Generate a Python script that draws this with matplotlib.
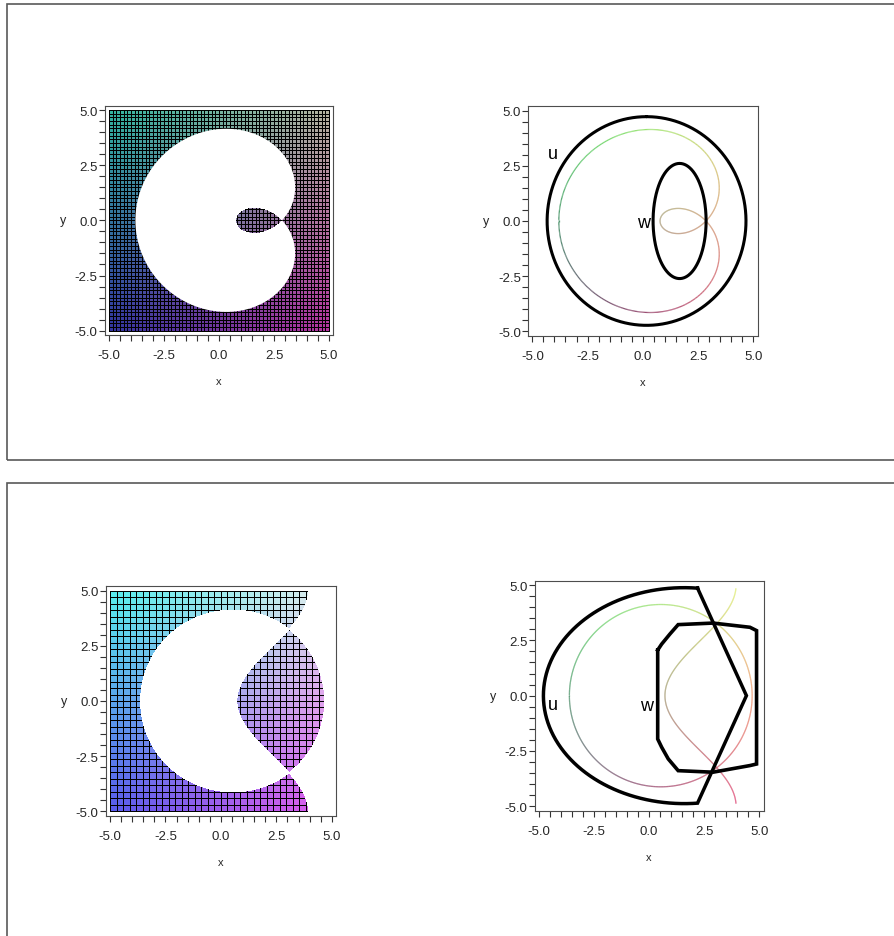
import numpy as np
import matplotlib
matplotlib.use('Agg')
import matplotlib.pyplot as plt
from matplotlib import patches
from matplotlib.collections import LineCollection
from matplotlib.ticker import MultipleLocator

plt.rcParams['font.family'] = ['Liberation Sans', 'DejaVu Sans']

# ---- curve parameters ----
# top row: looped curve  x = c0 + c1*cos t + c2*cos 2t,  y = s1*sin t + s2*sin 2t
loop_x = [0.835, 2.29, -2.345]
loop_y = [2.593, -2.155]
u_top = [0.17, 0.0, 4.5, 4.73]      # ellipse: cx, cy, a, b
w_top = [1.665, 0.0, 1.2, 2.61]

# bottom row: circle and a cosine shaped branch x = k0 - k1*cos(k2*y)
circ_bot = [0.53, 0.0, 4.15, 4.12]
branch_bot = [2.335, 1.615, 0.628]
branch_y = [-4.88, 4.85]
u_arc = [1.6, 0.0, 6.4, 4.88]       # left arc of u: cx, cy, a, b
u_arc_end_x = 2.2
u_tip = [4.42, 0.0]
w_bot_x = [0.39, 0.57, 0.95, 1.32, 2.90, 4.58, 4.88, 4.88, 4.58, 2.90, 1.32, 0.87, 0.57, 0.39]
w_bot_y = [2.06, 2.33, 2.79, 3.21, 3.28, 3.09, 2.94, -3.09, -3.16, -3.46, -3.39, -2.86, -2.33, -1.96]

# label positions
u_lbl_top = (-4.06, 3.04)
w_lbl_top = (0.02, -0.06)
u_lbl_bot = (-4.35, -0.38)
w_lbl_bot = (-0.11, -0.45)

ticks = [-5.0, -2.5, 0.0, 2.5, 5.0]
tick_labels = ['-5.0', '-2.5', '0.0', '2.5', '5.0']
n_cells_top = 60
n_cells_bot = 34

# cell colour ramps: (r0, r_slope, g0, g_slope, b)
shade_top = (0.45, 0.052, 0.45, 0.05, 0.62)
shade_bot = (0.62, 0.056, 0.64, 0.058, 0.93)

W, H = 894, 937
fig = plt.figure(figsize=(W / 100, H / 100), dpi=100)


def px_axes(l, t, w, h):
    return fig.add_axes([l / W, 1 - (t + h) / H, w / W, h / H])


def style_axes(ax):
    ax.set_xlim(-5.2, 5.2)
    ax.set_ylim(-5.2, 5.2)
    ax.set_xticks(ticks)
    ax.set_xticklabels(tick_labels)
    ax.set_yticks(ticks)
    ax.set_yticklabels(tick_labels)
    ax.xaxis.set_minor_locator(MultipleLocator(0.5))
    ax.yaxis.set_minor_locator(MultipleLocator(0.5))
    ax.tick_params(which='both', direction='out', length=4, width=0.8,
                   color='0.2', labelcolor='0.15', labelsize=9.5)
    ax.tick_params(axis='x', which='major', pad=6)
    ax.tick_params(axis='y', which='major', pad=1)
    for s in ax.spines.values():
        s.set_color('0.3')
        s.set_linewidth(0.8)
    ax.text(0.5, -0.2, 'x', transform=ax.transAxes, ha='center', va='center', fontsize=8, color='0.15')
    ax.text(-0.18, 0.5, 'y', transform=ax.transAxes, ha='center', va='center', fontsize=9, color='0.15')


def cell_grid(ax, n, shade, lw, zorder=1):
    edges = np.linspace(-5, 5, n + 1)
    X, Y = np.meshgrid(edges, edges)
    cx = (edges[:-1] + edges[1:]) / 2
    CX, CY = np.meshgrid(cx, cx)
    r0, rs, g0, gs, b = shade
    rgb = np.dstack([np.clip(r0 + rs * CX, 0, 1),
                     np.clip(g0 + gs * CY, 0, 1),
                     np.full_like(CX, b)])
    return ax.pcolormesh(X, Y, rgb, edgecolors='k', linewidth=lw, zorder=zorder)


def color_line(ax, x, y, lw=0.9):
    pts = np.column_stack([x, y])
    segs = np.stack([pts[:-1], pts[1:]], axis=1)
    mx = (x[:-1] + x[1:]) / 2
    my = (y[:-1] + y[1:]) / 2
    cols = np.column_stack([np.clip(0.6 + 0.07 * mx, 0, 1),
                            np.clip(0.6 + 0.07 * my, 0, 1),
                            np.full_like(mx, 0.45)])
    ax.add_collection(LineCollection(segs, colors=cols, linewidths=lw, zorder=2,
                                     capstyle='butt'))


def ellipse_xy(p, t):
    return p[0] + p[2] * np.cos(t), p[1] + p[3] * np.sin(t)


def loop_xy(t):
    x = loop_x[0] + loop_x[1] * np.cos(t) + loop_x[2] * np.cos(2 * t)
    y = loop_y[0] * np.sin(t) + loop_y[1] * np.sin(2 * t)
    return x, y


# parameter where the looped curve crosses itself
t_node = np.arccos(-loop_y[0] / (2 * loop_y[1]))

# panel frames
fig.add_artist(patches.Rectangle((7 / W, 1 - 461 / H), 900 / W, 456 / H, transform=fig.transFigure,
                                 fill=False, edgecolor='0.35', lw=1.2))
fig.add_artist(patches.Rectangle((7 / W, 1 - 950 / H), 900 / W, 466 / H, transform=fig.transFigure,
                                 fill=False, edgecolor='0.35', lw=1.2))

# ---- top left: shaded outside the outer loop and inside the inner loop ----
ax1 = px_axes(104.6, 106.6, 228.8, 229.5)
cell_grid(ax1, n_cells_top, shade_top, 0.7)
ox, oy = loop_xy(np.linspace(t_node, 2 * np.pi - t_node, 600))
ax1.add_patch(patches.Polygon(np.column_stack([ox, oy]), closed=True,
                              facecolor='white', edgecolor='none', zorder=2))
ix, iy = loop_xy(np.linspace(-t_node, t_node, 300))
inner = patches.Polygon(np.column_stack([ix, iy]), closed=True, facecolor='none', edgecolor='none')
ax1.add_patch(inner)
inner_mesh = cell_grid(ax1, n_cells_top, shade_top, 0.7, zorder=3)
inner_mesh.set_clip_path(inner)
style_axes(ax1)

# ---- top right: curves ----
ax2 = px_axes(527.9, 107.3, 229.8, 229.4)
tt = np.linspace(0, 2 * np.pi, 800)
lx, ly = loop_xy(tt)
color_line(ax2, lx, ly)
te = np.linspace(0.5 * np.pi, 2.5 * np.pi, 800)
for p in (u_top, w_top):
    ex, ey = ellipse_xy(p, te)
    ax2.plot(ex, ey, color='k', lw=2.2, solid_capstyle='round', zorder=3)
ax2.text(*u_lbl_top, 'u', fontsize=13, ha='center', va='center', zorder=4)
ax2.text(*w_lbl_top, 'w', fontsize=13, ha='center', va='center', zorder=4)
style_axes(ax2)

# ---- bottom left: shaded where circle and branch have the same sign ----
ax3 = px_axes(105.6, 587.3, 230.6, 229.4)
cell_grid(ax3, n_cells_bot, shade_bot, 0.6)
g = np.linspace(-5.4, 5.4, 900)
GX, GY = np.meshgrid(g, g)
circ_val = ((GX - circ_bot[0]) / circ_bot[2]) ** 2 + ((GY - circ_bot[1]) / circ_bot[3]) ** 2 - 1
branch_val = branch_bot[0] - branch_bot[1] * np.cos(branch_bot[2] * GY) - GX
ax3.contourf(GX, GY, circ_val * branch_val, levels=[-1e9, 0], colors='white', zorder=2)
style_axes(ax3)

# ---- bottom right: curves ----
ax4 = px_axes(534.6, 581.6, 229, 230.1)
cx, cy = ellipse_xy(circ_bot, tt)
color_line(ax4, cx, cy)
by = np.linspace(branch_y[0], branch_y[1], 400)
bx = branch_bot[0] - branch_bot[1] * np.cos(branch_bot[2] * by)
color_line(ax4, bx, by)
th0 = np.arccos((u_arc_end_x - u_arc[0]) / u_arc[2])
ta = np.linspace(th0, 2 * np.pi - th0, 400)
arc_x, arc_y = ellipse_xy(u_arc, ta)
ux = np.concatenate([arc_x, [u_tip[0], arc_x[0]]])
uy = np.concatenate([arc_y, [u_tip[1], arc_y[0]]])
ax4.plot(ux, uy, color='k', lw=2.5, solid_joinstyle='miter', zorder=3)
ax4.plot(w_bot_x + w_bot_x[:1], w_bot_y + w_bot_y[:1], color='k', lw=2.6,
         solid_joinstyle='miter', zorder=3)
ax4.text(*u_lbl_bot, 'u', fontsize=13, ha='center', va='center', zorder=4)
ax4.text(*w_lbl_bot, 'w', fontsize=13, ha='center', va='center', zorder=4)
style_axes(ax4)

fig.savefig('out.png', dpi=100)
